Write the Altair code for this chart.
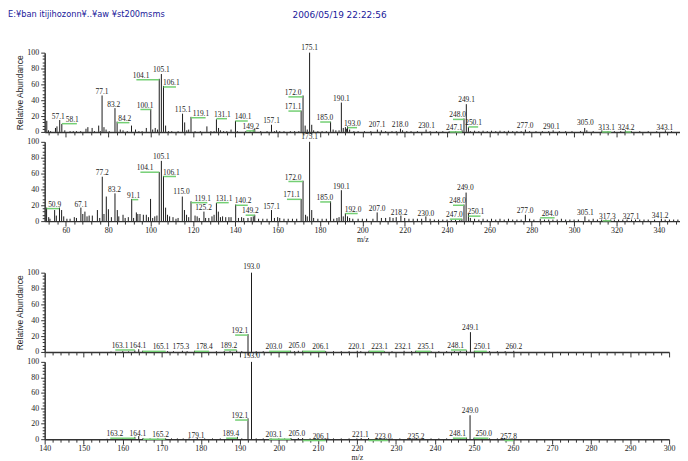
import altair as alt
import pandas as pd

header_left = "E:¥ban itijihozonn¥..¥aw ¥st200msms"
header_right = "2006/05/19 22:22:56"

# ---------------- panel 1 (top MS/MS, 50-350) ----------------
p1_peaks = [(51.0, 14), (51.8, 2), (52.8, 1), (55.1, 5), (55.8, 7), (57.1, 15), (58.1, 10), (59.5, 2), (62, 1), (63.5, 1),
            (65, 1), (67, 1), (69.5, 4), (70.4, 6), (72.4, 5), (73.5, 1), (75.5, 8), (76.3, 1), (77.1, 46), (78.0, 6),
            (79.0, 3), (80.5, 1), (83.2, 30), (84.2, 13), (85.7, 3), (87, 2), (89, 1), (91.0, 8), (92.9, 3), (94.5, 1),
            (96, 1), (98, 5), (100.1, 29), (101, 3), (102.2, 5), (103.3, 3), (104.1, 67), (105.1, 73), (106.1, 58),
            (107.1, 8), (108.5, 1), (110, 1), (113, 1), (115.1, 23), (116.1, 12), (117.1, 2), (118, 3), (119.1, 19),
            (121, 1), (123.5, 1), (126.6, 7), (128.5, 1), (130, 1), (131.1, 16), (132.1, 5), (133, 2), (134.5, 1),
            (136, 1), (138, 3), (140.1, 14), (141, 1), (145, 1), (147, 1), (148.5, 3), (149.2, 4), (152, 1), (155, 1),
            (157.1, 9), (158.5, 1), (159.5, 2), (161, 1), (163, 1), (166, 1), (168, 1), (170, 1), (171.1, 27),
            (172.0, 46), (173.0, 8), (174.0, 3), (175.1, 100), (176.1, 9), (177, 2), (179, 1), (181, 1), (183, 1),
            (185.0, 13), (186.2, 3), (187.5, 2), (189, 2), (190.1, 37), (191.0, 5), (192.0, 6), (192.6, 4), (193.0, 7),
            (194, 3), (196, 1), (198, 1), (201, 1), (204, 1), (207.1, 3), (209, 2), (211, 1), (214, 1), (216, 1),
            (218.0, 4), (219, 2), (221, 1), (223, 1), (226, 1), (230.1, 3), (232, 1), (235, 1), (238, 1), (241, 1),
            (244, 1), (247.1, 2), (248.0, 17), (249.1, 35), (250.1, 6), (251, 1), (253, 1.5), (255, 1), (257, 1.5),
            (259, 1), (261, 1.5), (263, 1), (265, 1.5), (267, 1), (269, 1.5), (271, 1), (273, 1), (275, 1), (277.0, 3),
            (279, 1), (282, 1), (285, 1), (288, 1), (290.1, 2), (293, 1), (296, 1), (299, 1), (303, 1), (305.0, 5),
            (306, 2), (309, 1), (313.1, 2), (316, 1), (319, 1), (322, 1), (324.2, 2), (327, 1), (331, 1), (335, 1),
            (339, 1), (343.1, 2), (346, 1)]
p1_lbl = ["57.1", "58.1", "77.1", "83.2", "84.2", "100.1", "104.1", "105.1", "106.1", "115.1", "119.1", "131.1",
          "140.1", "149.2", "157.1", "171.1", "172.0", "175.1", "185.0", "190.1", "193.0", "207.1", "218.0", "230.1",
          "247.1", "248.0", "249.1", "250.1", "277.0", "290.1", "305.0", "313.1", "324.2", "343.1"]
p1_lx = [56.4, 63.0, 77.1, 82.6, 87.8, 97.4, 95.5, 105.1, 109.8, 115.3, 123.8, 133.9, 143.7, 147.4, 157.1, 167.3,
         167.3, 175.1, 182.3, 190.1, 195.3, 207.0, 217.8, 230.3, 243.5, 245.0, 249.2, 252.5, 276.9, 289.3, 305.3,
         315.3, 324.6, 342.9]
p1_ly = [18.8, 15.4, 50, 34, 16.7, 33.3, 70.8, 78.3, 61.7, 27.1, 22.9, 21.7, 18.8, 6.3, 13.8, 31.3, 49.2, 106,
         17.5, 41.7, 10.4, 8.3, 8.3, 7, 5, 20.8, 40.8, 11.3, 7.1, 6.3, 11.3, 5, 5, 5]
p1_green = [0, 1, 0, 0, 1, 1, 1, 0, 1, 0, 1, 1, 1, 1, 0, 1, 1, 0, 1, 0, 1, 0, 0, 0, 1, 1, 0, 1, 0, 0, 0, 1, 1, 0]

# ---------------- panel 2 (top MS/MS, 50-350) ----------------
p2_peaks = [(50.9, 17), (51.9, 5), (52.5, 3), (54.7, 14), (55.5, 7), (57.0, 17), (58.0, 14), (59, 6), (60.5, 3),
            (62, 3), (64, 5), (65, 4), (67.1, 17), (68, 9), (69, 12), (70, 6), (71, 7), (72.5, 7), (74.9, 14), (76, 4),
            (77.2, 56), (78, 9), (79.1, 31), (80.1, 15), (81.5, 5), (83.2, 35), (84.3, 14), (85, 6), (87, 8), (88, 4),
            (89.5, 5), (91.1, 28), (92, 4), (93.3, 11), (94, 9), (95, 9), (96.6, 8), (98, 8), (99, 5), (100.0, 28),
            (101, 4), (102, 6), (103, 7), (104.1, 62), (105.1, 76), (106.1, 57), (107.1, 17), (108, 8), (109, 6),
            (110.6, 5), (112, 3), (113, 4), (115.0, 31), (116, 14), (117, 8), (118, 5), (119.1, 25), (121, 7),
            (122, 6), (123, 4), (125.2, 12), (126, 4), (127.5, 4), (129, 6), (130, 8), (131.1, 23), (132, 12),
            (133, 5), (134, 6), (135.5, 5), (137, 5), (138, 5), (140.2, 21), (141.5, 4), (143, 5), (144, 4), (146, 4),
            (147.5, 5), (148.5, 6), (149.2, 8), (151, 3), (153, 3), (155, 3), (157.1, 14), (158.5, 4), (160, 5),
            (161, 4), (163, 3), (165, 3), (167, 3), (169, 3), (171.1, 28), (172.0, 51), (173.2, 8), (174, 6),
            (175.1, 100), (176.1, 14), (177, 4), (179, 3), (181, 3), (183, 3), (185.0, 25), (186.5, 3), (188, 4),
            (189, 5), (190.1, 39), (191, 6), (192.0, 10), (193, 6), (194, 4), (195.5, 3), (198, 3), (200, 3),
            (202, 3), (205, 3), (207.0, 11), (209, 4), (211, 4), (213, 5), (214.5, 4), (216, 5), (218.2, 7),
            (220, 4), (222, 3), (224, 3), (226, 3), (228, 3), (230.0, 6), (232, 3), (234, 2), (236, 2), (238, 2),
            (240, 2), (242, 2), (244, 2), (246, 2), (247.0, 3), (248.0, 21), (249.0, 36), (250.1, 9), (251, 4),
            (253, 3), (255, 2), (257, 3), (259, 2), (261, 3), (263, 2), (265, 3), (267, 2), (269, 3), (271, 2),
            (273, 2), (275, 2), (277.0, 8), (279, 3), (281, 2), (284.0, 3), (286, 2), (288, 2), (290, 2), (292, 2),
            (294, 3), (296, 2), (298, 2), (300, 2), (302, 2), (305.1, 6), (307, 2), (309, 3), (311, 2), (313, 2),
            (315, 2), (317.3, 2), (319, 2), (321, 2), (323, 2), (325, 2), (327.1, 2), (329, 2), (331, 2), (333, 2),
            (335, 2), (338, 2), (341.2, 3), (343, 2), (345, 2), (347, 2), (349, 2)]
p2_lbl = ["50.9", "67.1", "77.2", "83.2", "91.1", "104.1", "105.1", "106.1", "115.0", "119.1", "125.2", "131.1",
          "140.2", "149.2", "157.1", "171.1", "172.0", "175.1", "185.0", "190.1", "192.0", "207.0", "218.2", "230.0",
          "247.0", "248.0", "249.0", "250.1", "277.0", "284.0", "305.1", "317.3", "327.1", "341.2"]
p2_lx = [54.7, 67.1, 77.2, 83.0, 92.0, 97.4, 105.1, 109.8, 114.6, 124.6, 125.0, 134.7, 143.7, 147.1, 157.1, 166.6,
         167.3, 175.1, 182.3, 190.1, 195.6, 207.0, 217.4, 230.0, 243.5, 245.0, 248.6, 253.6, 276.9, 288.6, 305.3,
         315.7, 326.9, 340.6]
p2_ly = [20.8, 20.8, 60.4, 38.8, 32.1, 66.7, 81.3, 61.3, 36.3, 28.3, 16.7, 28.3, 25, 12.5, 17.9, 32.5, 55, 106.3,
         29.2, 43, 14.6, 15.8, 10.4, 9.2, 7.5, 25, 41.7, 11.3, 12.5, 9.2, 10.4, 5.4, 5.4, 6.3]
p2_green = [1, 0, 0, 0, 1, 1, 0, 1, 0, 1, 0, 1, 1, 1, 0, 1, 1, 0, 1, 0, 1, 0, 0, 0, 1, 1, 0, 1, 0, 1, 0, 1, 0, 0]

# ---------------- panel 3 (bottom MS/MS, 140-300) ----------------
p3_peaks = [(157, 0.5), (160, 1), (161.5, 0.8), (163.1, 2), (164.1, 3.5), (165.1, 1.5), (166.5, 1), (168, 1),
            (170, 1), (171.5, 1), (173, 1), (175.3, 1.5), (176.5, 1), (178.4, 1.5), (180, 1), (182, 1), (184, 1),
            (186, 1), (187.5, 1), (189.2, 2), (190.5, 1), (192.1, 22.5), (193.0, 100), (194.2, 1), (196, 1), (198, 1),
            (200, 1), (201.5, 1), (203.0, 1.5), (204, 1), (205.0, 1.5), (206.1, 1.5), (208, 1), (210, 1), (212, 1),
            (214, 1), (216, 1), (218, 1), (220.1, 1.5), (221, 1), (223.1, 1.5), (225, 1), (227, 1), (229, 1),
            (232.1, 1.5), (234, 1), (235.1, 1.5), (237, 1), (239, 1), (241, 1), (243, 1), (245, 1), (246.5, 1),
            (248.1, 2), (249.1, 25), (250.1, 1.5), (252, 1), (254, 1), (256, 1), (258, 1), (260.2, 1.5)]
p3_lbl = ["163.1", "164.1", "165.1", "175.3", "178.4", "189.2", "192.1", "193.0", "203.0", "205.0", "206.1",
          "220.1", "223.1", "232.1", "235.1", "248.1", "249.1", "250.1", "260.2"]
p3_lx = [159.3, 163.9, 169.8, 174.9, 180.9, 187.2, 190.0, 193.0, 198.7, 204.6, 210.7, 219.9, 225.8, 231.8, 237.7,
         245.3, 249.1, 252.1, 260.2]
p3_ly = [7.5, 7.5, 5.8, 5.8, 5.8, 7.5, 26.3, 107.5, 5.8, 7.5, 5.8, 5.8, 5.8, 5.8, 5.8, 7.5, 29.6, 5.8, 5.8]
p3_green = [1, 0, 1, 0, 1, 1, 1, 0, 1, 0, 1, 0, 1, 0, 1, 1, 0, 1, 0]

# ---------------- panel 4 (bottom MS/MS, 140-300) ----------------
p4_peaks = [(156, 0.5), (160, 1), (162, 0.8), (163.1, 3), (164.1, 4), (165.2, 1.5), (167, 1), (169, 1), (171, 1),
            (172.5, 1), (174, 1), (175.5, 1), (177, 1), (179.1, 1.5), (181, 1), (183, 1), (185, 1), (187, 1),
            (189.4, 3), (190.5, 1), (192.1, 27), (193.0, 100), (194.2, 1), (196, 1), (198, 1), (200, 1), (201.5, 1),
            (203.1, 1.5), (205.0, 1.5), (206.1, 1.5), (208, 1), (210, 1), (212, 1), (214, 1), (216, 1), (218, 1),
            (220, 1), (221.1, 1.5), (223.0, 1.5), (225, 1), (227, 1), (229, 1), (231, 1), (233, 1), (235.2, 1.5),
            (237, 1), (239, 1), (241, 1), (243, 1), (245, 1), (246.5, 1), (248.1, 2), (249.0, 31), (250.0, 2),
            (252, 1), (254, 1), (256, 1), (257.8, 1.5), (259.5, 1)]
p4_lbl = ["163.2", "164.1", "165.2", "179.1", "189.4", "192.1", "193.0", "203.1", "205.0", "206.1", "221.1",
          "223.0", "235.2", "248.1", "249.0", "250.0", "257.8"]
p4_lx = [158.0, 163.9, 169.7, 178.8, 187.7, 190.0, 193.0, 198.7, 204.6, 210.8, 220.9, 226.7, 235.2, 245.8, 249.0,
         252.5, 258.9]
p4_ly = [6.4, 6.4, 5.1, 4.3, 6.4, 29.9, 107.7, 5.1, 6.4, 3.4, 5.1, 3.4, 3.4, 6.4, 36.3, 6.4, 3.4]
p4_green = [1, 0, 1, 0, 1, 1, 0, 1, 0, 1, 0, 1, 0, 1, 0, 1, 1]

top_domain = [50, 350]
bot_domain = [140, 300]
top_ticks = list(range(52, 351, 4))
bot_ticks = list(range(140, 301, 2))
y_ticks = list(range(0, 101, 4))

SERIF = "Liberation Serif"
SANS = "Liberation Sans"
HEAD = "DejaVu Sans"
BAR = "#1a1a1a"
GREEN = "#74cf74"
AXC = "#333333"
TXT = "#222222"


def x_axis(values, major, show_labels):
    kw = dict(values=values, grid=False, domainColor=AXC, domainWidth=1.5, tickColor=AXC, tickWidth=1,
              tickSize={"condition": {"test": f"datum.value % {major} === 0", "value": 5}, "value": 3},
              labelOverlap=False, labelFlush=False)
    if show_labels:
        kw.update(labelExpr=f"datum.value % {major} === 0 ? datum.label : ''", labelFont=SERIF,
                  labelFontSize=8, labelColor=TXT, labelPadding=0, title="m/z", titleFont=SERIF,
                  titleFontSize=8, titleFontWeight="normal", titleColor=TXT, titlePadding=2)
    else:
        kw.update(labels=False, title="")
    return alt.Axis(**kw)


def y_axis(title):
    kw = dict(values=y_ticks, grid=False, domainColor=AXC, domainWidth=1.5, tickColor=AXC, tickWidth=1,
              tickSize={"condition": {"test": "datum.value % 20 === 0", "value": 4}, "value": 2.5},
              labelExpr="datum.value % 20 === 0 ? datum.label : ''", labelFont=SERIF, labelFontSize=8,
              labelColor=TXT, labelPadding=2, labelOverlap=False, labelFlush=False)
    if title:
        kw.update(title=title, titleFont=SANS, titleFontSize=8.5, titleFontWeight="normal", titleColor=TXT,
                  titlePadding=2)
    else:
        kw.update(title="")
    return alt.Axis(**kw)


def panel(peaks, lbl, lx, ly, green, domain, ticks, major, width, height, show_xlabels, ytitle, hw, header=False):
    pk = pd.DataFrame(peaks, columns=["mz", "ab"])
    lb = pd.DataFrame({"text": lbl, "mz": lx, "ab": ly, "green": green})
    lb["peak"] = lb["text"].astype(float)
    gl = lb[lb["green"] == 1].copy()
    left = gl["mz"] < gl["peak"]
    gl["mz1"] = gl["peak"].where(~left, gl["mz"] - 0.4 * hw)
    gl["mz2"] = gl["peak"].where(left, gl["mz"] + 0.4 * hw)

    xs = alt.Scale(domain=domain, nice=False, zero=False)
    ys = alt.Scale(domain=[0, 100], nice=False, zero=True)
    xa = x_axis(ticks, major, show_xlabels)
    ya = y_axis(ytitle)

    bars = alt.Chart(pk).mark_rule(color=BAR, strokeWidth=1).encode(
        x=alt.X("mz:Q", scale=xs, axis=xa),
        y=alt.Y("ab:Q", scale=ys, axis=ya),
        y2=alt.datum(0),
    )
    lines = alt.Chart(gl).mark_rule(color=GREEN, strokeWidth=1.5, yOffset=4).encode(
        x=alt.X("mz1:Q", scale=xs, axis=xa),
        x2="mz2:Q",
        y=alt.Y("ab:Q", scale=ys, axis=ya),
    )
    texts = alt.Chart(lb).mark_text(font=SERIF, fontSize=7.5, color=TXT, baseline="middle").encode(
        x=alt.X("mz:Q", scale=xs, axis=xa),
        y=alt.Y("ab:Q", scale=ys, axis=ya),
        text="text:N",
    )
    layers = [bars, lines, texts]
    if header:
        hd = pd.DataFrame({"t": [header_left], "d": [header_right]})
        layers.append(alt.Chart(hd).mark_text(align="left", baseline="middle", font=HEAD, fontSize=8.3,
                                              color="#20209a").encode(
            x=alt.value(-37), y=alt.value(-38), text="t:N"))
        layers.append(alt.Chart(hd).mark_text(align="left", baseline="middle", font=HEAD, fontSize=9,
                                              color="#20209a").encode(
            x=alt.value(250), y=alt.value(-38), text="d:N"))
    return alt.layer(*layers).properties(width=width, height=height)


p1 = panel(p1_peaks, p1_lbl, p1_lx, p1_ly, p1_green, top_domain, top_ticks, 20, 641, 80, False,
           "Relative Abundance", 5.5, header=True)
p2 = panel(p2_peaks, p2_lbl, p2_lx, p2_ly, p2_green, top_domain, top_ticks, 20, 641, 80, True, "", 5.5)
p3 = panel(p3_peaks, p3_lbl, p3_lx, p3_ly, p3_green, bot_domain, bot_ticks, 10, 630, 80, False,
           "Relative Abundance", 3.0)
p4 = panel(p4_peaks, p4_lbl, p4_lx, p4_ly, p4_green, bot_domain, bot_ticks, 10, 630, 78, True, "", 3.0)

spacer = alt.Chart(pd.DataFrame({"v": [0]})).mark_point(opacity=0).encode(
    x=alt.X("v:Q", axis=None), y=alt.Y("v:Q", axis=None)).properties(width=10, height=32)

chart = alt.vconcat(p1, p2, spacer, p3, p4, spacing=10, bounds="flush", padding=0,
                    background="white").configure_view(strokeWidth=0)

chart.save("out.html", embed_options={"renderer": "svg", "actions": False})
